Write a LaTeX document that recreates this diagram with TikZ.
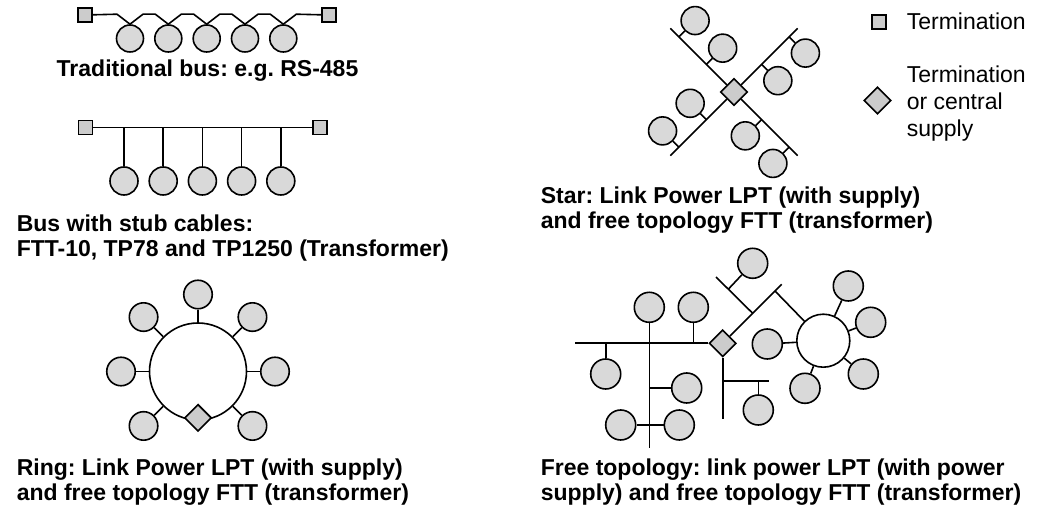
\documentclass[tikz,border=0pt]{standalone}
\usepackage{fontspec}
\setmainfont{Liberation Sans}
\frenchspacing
\usepackage{tikz}
\usetikzlibrary{shapes, calc, positioning}
\tikzset{
  station/.style = {circle, draw, fill=nodeGray, minimum size=#1, inner sep=0pt},
  station/.default = 28pt,
  termBox/.style = {rectangle, draw, fill=termGray, minimum size=14pt, inner sep=0pt},
  supplyBox/.style = {diamond, draw, fill=termGray, minimum width=27pt, minimum height=27pt, inner sep=0pt}
}

\begin{document}
\begin{tikzpicture}[x=1pt, y=-1pt, line width=1.6pt]
  \colorlet{nodeGray}{black!15}
  \colorlet{termGray}{black!20}
  \tikzset{
    capStyle/.style={font=\bfseries\fontsize{23}{25}\selectfont, align=left, inner sep=0pt},
    legendStyle/.style={font=\fontsize{23}{27}\selectfont, align=left, inner sep=0pt}
  }
  \useasboundingbox (0,0) rectangle (1037,510);

  % traditional bus
  \node[termBox] (tl) at (85,15) {};
  \node[termBox] (tr) at (329,15) {};
  \foreach \x [count=\i] in {130,168.3,206.7,245,283.3} {
    \node[station=27pt] (c\i) at (\x,38.5) {};
    \coordinate (l\i) at ($(c\i.north)+(-13,-10)$);
    \coordinate (r\i) at ($(c\i.north)+(13,-10)$);
  }
  \draw (tl) -- (l1) -- (c1.north) -- (r1) -- (l2) -- (c2.north) -- (r2)
    -- (l3) -- (c3.north) -- (r3) -- (l4) -- (c4.north) -- (r4)
    -- (l5) -- (c5.north) -- (r5) -- (tr);
  \node[capStyle, anchor=base] (capBus) at (207.5,77) {Traditional bus: e.g. RS-485};

  % bus with stubs
  \node[termBox] (sl) at (85.5,127.5) {};
  \node[termBox] (sr) at (320,127.5) {};
  \draw (sl) -- (sr);
  \foreach \x [count=\i] in {124,163.2,202.4,241.6,280.8} {
    \node[station] (d\i) at (\x,181) {};
    \coordinate (t\i) at (\x,127.5);
    \draw (t\i) -- (d\i);
  }
  \node[capStyle, anchor=north west] (capStub) at (16,214)
    {Bus with stub cables:\\FTT-10, TP78 and TP1250 (Transformer)};

  % star
  \node[supplyBox] (hub) at (734,92) {};
  \foreach \a in {45,135,225,315} {
    \coordinate (e\a) at ($(hub)+(\a:90)$);
    \draw (hub) -- (e\a);
    \foreach \d in {39,78} {
      \coordinate (p\a\d) at ($(hub)+(\a:\d)$);
      \node[station] (n\a\d) at ($(p\a\d)+({\a+90}:23)$) {};
      \draw (p\a\d) -- (n\a\d);
    }
  }
  \node[capStyle, anchor=north west] (capStar) at (540,186)
    {Star: Link Power LPT (with supply)\\and free topology FTT (transformer)};

  % legend
  \node[termBox] (legTerm) at (879,22) {};
  \node[legendStyle, anchor=base west] (legTermTxt) at (906,29.5) {Termination};
  \node[supplyBox] (legSup) at (877.5,100.5) {};
  \node[legendStyle, anchor=north west] (legSupTxt) at (906,65) {Termination\\or central\\supply};

  % ring
  \node[circle, draw, minimum size=97pt, inner sep=0pt] (ring) at (198,371.5) {};
  \foreach \a [count=\i] in {0,45,135,180,225,270,315} {
    \node[station=28.5pt] (rg\i) at ($(ring)+(\a:77)$) {};
    \draw (ring) -- (rg\i);
  }
  \node[supplyBox] (ringSup) at ($(ring.south)+(0,-3)$) {};
  \node[capStyle, anchor=north west] (capRing) at (16,458)
    {Ring: Link Power LPT (with supply)\\and free topology FTT (transformer)};

  % free topology
  \node[supplyBox] (fhub) at (722.7,343.3) {};
  \node[station=30pt] (fa) at (649.3,307.3) {};
  \node[station=30pt] (fb) at (693.3,307.3) {};
  \node[station=30pt] (fc) at (605.7,374) {};
  \node[station=30pt] (fd) at (686.7,388) {};
  \node[station=30pt] (fe) at (620.7,425) {};
  \node[station=30pt] (ff) at (679.3,425) {};
  \node[station=30pt] (fg) at (758.3,410) {};
  \node[station=30pt] (fh) at (752.7,263.3) {};
  \node[circle, draw, minimum size=53pt, inner sep=0pt] (fring) at (823.3,340.7) {};
  \node[station=30pt] (fi) at (848.3,286) {};
  \node[station=30pt] (fj) at (870.7,322.3) {};
  \node[station=30pt] (fk) at (863.3,374) {};
  \node[station=30pt] (fl) at (805,388.3) {};
  \node[station=30pt] (fm) at (767.3,344) {};

  \coordinate (fw) at (575,343.3);
  \coordinate (fs) at (649.3,448.3);
  \coordinate (fdown) at (722.7,419.3);
  \coordinate (fbr) at (769,381);
  \coordinate (fne) at (781.7,284.3);
  \coordinate (fx1) at (716,277);
  \coordinate (fx2) at (752.7,313.3);
  \coordinate (fhs) at (728.3,289.2);
  \coordinate (fjn) at (775,291);

  \draw (fw) -- (fhub);
  \draw (fa) -- (fs);
  \draw (fb) -- (fb |- fw);
  \draw (fc) -- (fc |- fw);
  \draw (fd) -- (fa |- fd);
  \draw (fe) -- (ff);
  \draw (fhub) -- (fdown);
  \draw (fhub |- fbr) -- (fbr);
  \draw (fg) -- (fg |- fbr);
  \draw (fhub) -- (fne);
  \draw (fx1) -- (fx2);
  \draw (fhs) -- (fh);
  \draw (fjn) -- (fring);
  \foreach \n in {fi,fj,fk,fl,fm}
    \draw (fring) -- (\n);
  \node[capStyle, anchor=north west] (capFree) at (540,458)
    {Free topology: link power LPT (with power\\supply) and free topology FTT (transformer)};
\end{tikzpicture}
\end{document}
